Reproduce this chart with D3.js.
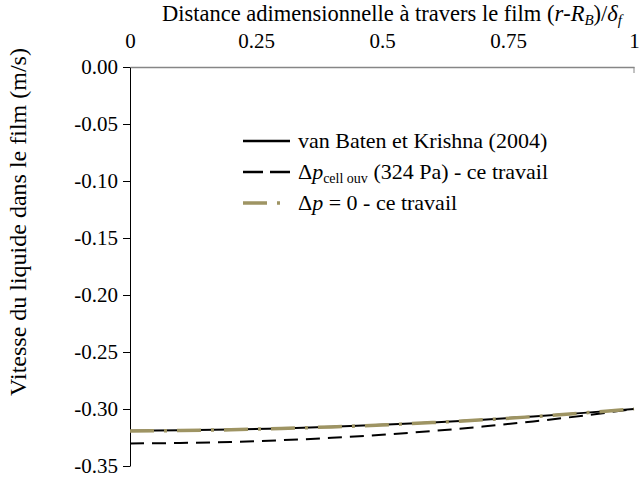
<!DOCTYPE html>
<html>
<head>
<meta charset="utf-8">
<script src="https://cdn.jsdelivr.net/npm/d3@7"></script>
<style>
  html, body { margin: 0; padding: 0; background: #fff; }
  svg text, svg tspan { font-family: "Liberation Serif", "Times New Roman", serif !important; fill: #000; }
</style>
</head>
<body>
<svg id="chart" width="640" height="495"></svg>
<script>
// ---- data ----
const xValues = [0, 0.1, 0.2, 0.3, 0.4, 0.5, 0.6, 0.7, 0.8, 0.9, 1.0];
const vanBaten = [-0.3190, -0.3187, -0.3180, -0.3170, -0.3156, -0.3139, -0.3118, -0.3094, -0.3066, -0.3034, -0.3000];
const dpCellOuv = [-0.3302, -0.3298, -0.3289, -0.3274, -0.3253, -0.3226, -0.3193, -0.3154, -0.3109, -0.3058, -0.3000];
const dpZero = [-0.3193, -0.3189, -0.3182, -0.3171, -0.3157, -0.3140, -0.3119, -0.3095, -0.3067, -0.3035, -0.3000];
const xTicks = [0, 0.25, 0.5, 0.75, 1];
const xTickLabels = ["0", "0.25", "0.5", "0.75", "1"];
const yTicks = [0, -0.05, -0.10, -0.15, -0.20, -0.25, -0.30, -0.35];
const yTickLabels = ["0.00", "-0.05", "-0.10", "-0.15", "-0.20", "-0.25", "-0.30", "-0.35"];

const FONT = '"Liberation Serif", "Times New Roman", serif';
const svg = d3.select("#chart");
const mLeft = 130, mRight = 634, mTop = 67, mBottom = 466;
const x = d3.scaleLinear().domain([0, 1]).range([mLeft, mRight]);
const y = d3.scaleLinear().domain([0, -0.35]).range([mTop, mBottom]);

// top x axis
const xAxis = d3.axisTop(x).tickValues(xTicks)
  .tickFormat((d, i) => xTickLabels[i]).tickSize(0).tickPadding(19);
const gx = svg.append("g").attr("transform", `translate(0,${mTop})`).call(xAxis);
gx.attr("font-family", FONT).attr("font-size", 21);
gx.select(".domain").attr("stroke", "#868686").attr("stroke-width", 1.5);
gx.selectAll("text").style("font-family", FONT).style("font-size", "21px");
// end tick (inside) at x = 1
svg.append("line").attr("x1", x(1)).attr("x2", x(1)).attr("y1", mTop).attr("y2", mTop + 6)
  .attr("stroke", "#868686").attr("stroke-width", 1);

// left y axis
const yAxis = d3.axisLeft(y).tickValues(yTicks)
  .tickFormat((d, i) => yTickLabels[i]).tickSizeInner(7).tickSizeOuter(0).tickPadding(5);
const gy = svg.append("g").attr("transform", `translate(${mLeft},0)`).call(yAxis);
gy.attr("font-family", FONT).attr("font-size", 21);
gy.select(".domain").attr("stroke", "#000").attr("stroke-width", 1);
gy.selectAll(".tick line").attr("stroke", "#000");
gy.selectAll("text").style("font-family", FONT).style("font-size", "21px");

// axis titles
const title = svg.append("text").attr("x", 392).attr("y", 21).attr("text-anchor", "middle")
  .style("font-family", FONT).style("font-size", "22.5px");
title.append("tspan").text("Distance adimensionnelle à travers le film (");
title.append("tspan").attr("font-style", "italic").text("r");
title.append("tspan").text("-");
title.append("tspan").attr("font-style", "italic").text("R");
title.append("tspan").attr("font-style", "italic").style("font-size", "15px").attr("dy", 4).text("B");
title.append("tspan").attr("dy", -4).text(")/");
title.append("tspan").attr("font-style", "italic").text("δ");
title.append("tspan").attr("font-style", "italic").style("font-size", "15px").attr("dy", 4).text("f");

svg.append("text").attr("transform", `translate(26,222) rotate(-90)`)
  .attr("text-anchor", "middle").style("font-family", FONT).style("font-size", "24px")
  .text("Vitesse du liquide dans le film (m/s)");

// series
const pts = arr => xValues.map((xv, i) => [xv, arr[i]]);
const line = d3.line().x(d => x(d[0])).y(d => y(d[1])).curve(d3.curveMonotoneX);
svg.append("path").datum(pts(dpCellOuv)).attr("d", line).attr("fill", "none")
  .attr("stroke", "#000").attr("stroke-width", 2).attr("stroke-dasharray", "14,8");
svg.append("path").datum(pts(vanBaten)).attr("d", line).attr("fill", "none")
  .attr("stroke", "#000").attr("stroke-width", 2);
svg.append("path").datum(pts(dpZero)).attr("d", line).attr("fill", "none")
  .attr("stroke", "#9E9463").attr("stroke-width", 3.5).attr("stroke-dasharray", "24,10,3,10");

// legend
const legend = svg.append("g");
const lx1 = 243, lx2 = 290, tx = 298;
const rows = [141, 172, 203];
legend.append("line").attr("x1", lx1).attr("x2", lx2).attr("y1", rows[0]).attr("y2", rows[0])
  .attr("stroke", "#000").attr("stroke-width", 2.5);
legend.append("line").attr("x1", lx1).attr("x2", lx2).attr("y1", rows[1]).attr("y2", rows[1])
  .attr("stroke", "#000").attr("stroke-width", 2.5).attr("stroke-dasharray", "20,7");
legend.append("line").attr("x1", lx1).attr("x2", lx2).attr("y1", rows[2]).attr("y2", rows[2])
  .attr("stroke", "#9E9463").attr("stroke-width", 3.5).attr("stroke-dasharray", "24,10,3,20");

legend.append("text").attr("x", tx).attr("y", rows[0] + 7).style("font-family", FONT).style("font-size", "22px")
  .text("van Baten et Krishna (2004)");
const t2 = legend.append("text").attr("x", tx).attr("y", rows[1] + 7).style("font-family", FONT).style("font-size", "22px");
t2.append("tspan").text("Δ");
t2.append("tspan").attr("font-style", "italic").text("p");
t2.append("tspan").style("font-size", "14px").attr("dy", 4).text("cell ouv");
t2.append("tspan").attr("dy", -4).text(" (324 Pa) - ce travail");
const t3 = legend.append("text").attr("x", tx).attr("y", rows[2] + 7).style("font-family", FONT).style("font-size", "22px");
t3.append("tspan").text("Δ");
t3.append("tspan").attr("font-style", "italic").text("p");
t3.append("tspan").text(" = 0 - ce travail");
</script>
</body>
</html>
